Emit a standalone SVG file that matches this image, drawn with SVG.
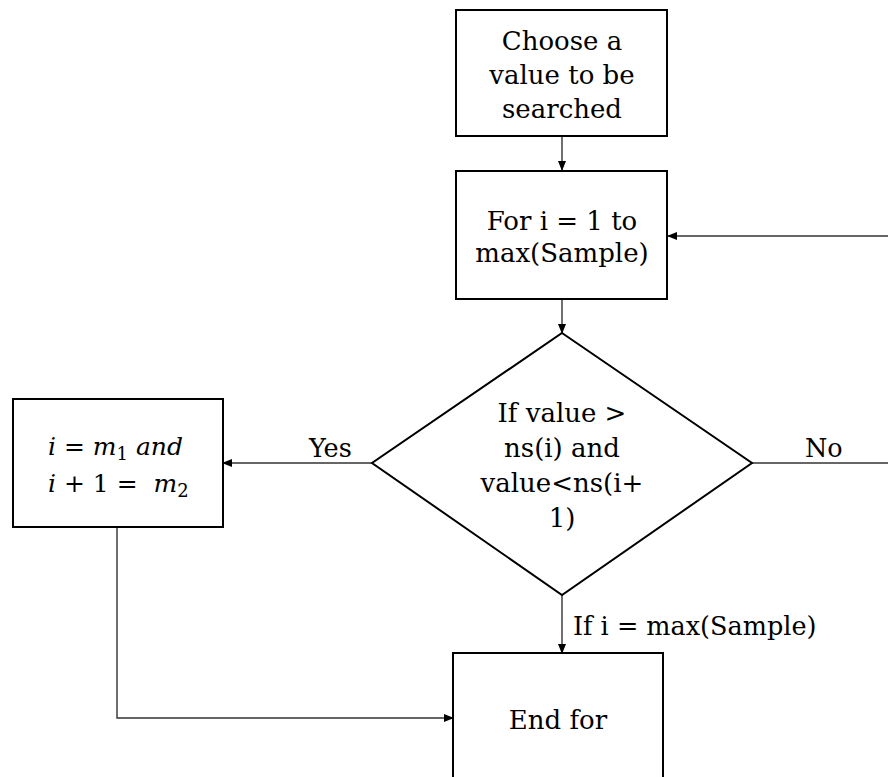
<svg xmlns="http://www.w3.org/2000/svg" width="888" height="777" viewBox="0 0 888 777">
<style>
.box{fill:#fff;stroke:#000;stroke-width:2}
.t{font-family:"DejaVu Serif","Liberation Serif",serif;font-size:26px;fill:#000;text-anchor:middle}
.lbl{font-family:"DejaVu Serif","Liberation Serif",serif;font-size:25.5px;fill:#000}
.m{font-family:"DejaVu Serif","Liberation Serif",serif;font-style:italic;font-size:25px;fill:#000}
.c{fill:none;stroke:#333;stroke-width:1.4}
</style>
<defs>
<marker id="ah" markerWidth="10" markerHeight="8" refX="9" refY="4" orient="auto" markerUnits="userSpaceOnUse">
<path d="M0,0 L10,4 L0,8 Z" fill="#000"/>
</marker>
</defs>
<rect width="888" height="777" fill="#fff"/>
<g id="connectors">
<line class="c" x1="562" y1="136" x2="562" y2="170" marker-end="url(#ah)"/>
<line class="c" x1="562" y1="299" x2="562" y2="333" marker-end="url(#ah)"/>
<line class="c" x1="888" y1="236" x2="668" y2="236" marker-end="url(#ah)"/>
<line class="c" x1="372" y1="463" x2="223" y2="463" marker-end="url(#ah)"/>
<line class="c" x1="752" y1="463" x2="888" y2="463"/>
<line class="c" x1="562" y1="595" x2="562" y2="653" marker-end="url(#ah)"/>
<polyline class="c" points="117,527 117,718 453,718" marker-end="url(#ah)"/>
<text class="lbl" x="309" y="457">Yes</text>
<text class="lbl" x="805" y="457">No</text>
<text class="lbl" x="573" y="635">If i = max(Sample)</text>
</g>
<g id="start">
<rect class="box" x="456" y="10" width="211" height="126"/>
<text class="t" x="562" y="50">Choose a</text>
<text class="t" x="562" y="84">value to be</text>
<text class="t" x="562" y="118">searched</text>
</g>
<g id="for">
<rect class="box" x="456" y="171" width="211" height="128"/>
<text class="t" x="562" y="230">For i = 1 to</text>
<text class="t" x="562" y="262">max(Sample)</text>
</g>
<g id="decision">
<polygon class="box" points="562,333 752,463 562,595 372,463"/>
<text class="t" x="562" y="422">If value &gt;</text>
<text class="t" x="562" y="457">ns(i) and</text>
<text class="t" x="562" y="492">value&lt;ns(i+</text>
<text class="t" x="562" y="527">1)</text>
</g>
<g id="assign">
<rect class="box" x="13" y="399" width="210" height="128"/>
<text class="m" x="48" y="455">i <tspan font-style="normal">=</tspan> m<tspan font-style="normal" font-size="18" dy="5">1</tspan><tspan dy="-5"> and</tspan></text>
<text class="m" x="48" y="492">i <tspan font-style="normal">+ 1 =</tspan>&#160; m<tspan font-style="normal" font-size="18" dy="5">2</tspan></text>
</g>
<g id="endfor">
<rect class="box" x="453" y="653" width="210" height="140"/>
<text class="t" x="558" y="729">End for</text>
</g>
</svg>
